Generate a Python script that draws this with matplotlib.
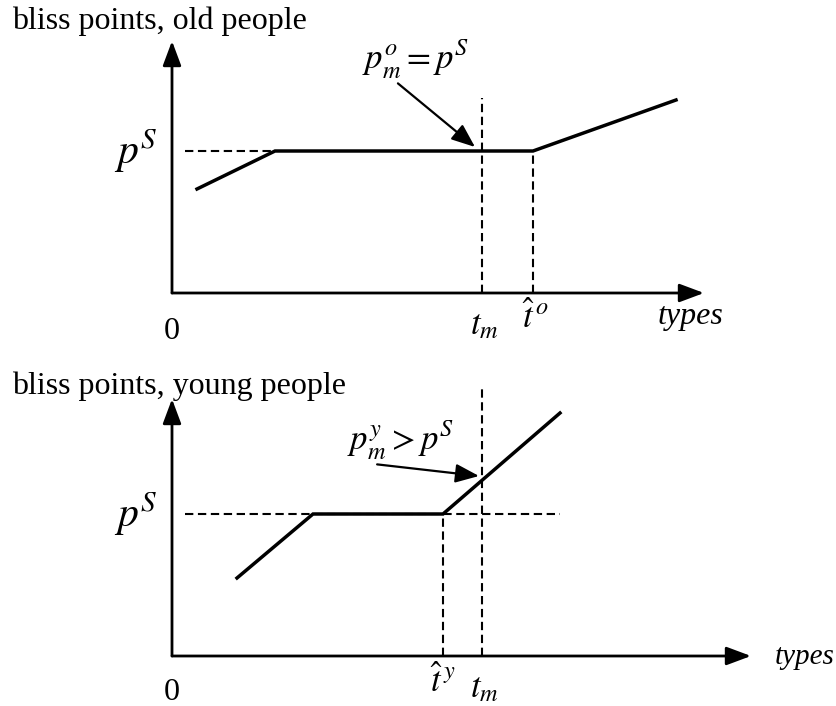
import matplotlib
matplotlib.use("Agg")
import matplotlib.pyplot as plt

plt.rcParams['font.family'] = ['Liberation Serif', 'DejaVu Serif']
plt.rcParams['mathtext.fontset'] = 'stix'

# ---- schematic data (units: types on x, bliss points on y) ----
# old people panel
old_types = [2.5, 10.3, 36.1, 50.4]
old_bliss = [10.4, 14.2, 14.2, 19.3]
old_pS = 14.2
old_tm = 31.0
old_that = 36.1
old_tm_top = 19.5

# young people panel
young_types = [6.5, 14.1, 27.1, 38.8]
young_bliss = [7.8, 14.2, 14.2, 24.3]
young_pS = 14.2
young_tm = 31.0
young_that = 27.1
young_tm_top = 27.0
young_pS_end = 38.8

titles = ["bliss points, old people", "bliss points, young people"]

W, H = 837, 706
fig = plt.figure(figsize=(W / 100, H / 100), dpi=100)

def make_ax(top_px, bot_px, origin_y_px):
    ax = fig.add_axes([0, 1 - bot_px / H, 1, (bot_px - top_px) / H])
    ax.set_xlim(-17.2, (W - 172) / 10)
    ax.set_ylim((origin_y_px - bot_px) / 10, (origin_y_px - top_px) / 10)
    ax.axis('off')
    return ax

dash = (0, (4, 2.2))
axis_arrow = dict(arrowstyle='-|>,head_length=0.75,head_width=0.28', lw=2.0,
                  color='k', shrinkA=0, shrinkB=0, mutation_scale=20)
ann_arrow = dict(arrowstyle='-|>,head_length=0.8,head_width=0.32', lw=1.6,
                 color='k', shrinkA=0, shrinkB=0, mutation_scale=18)

# ================= TOP PANEL =================
ax = make_ax(0, 360, 293)
ax.annotate('', xy=(0, 25.2), xytext=(0, 0), arrowprops=axis_arrow)
ax.annotate('', xy=(53.2, 0), xytext=(0, 0), arrowprops=axis_arrow)
ax.plot([1.3, old_types[1]], [old_pS, old_pS], color='k', lw=1.5, linestyle=dash)
ax.plot([old_tm, old_tm], [0, old_tm_top], color='k', lw=1.5, linestyle=dash)
ax.plot([old_that, old_that], [0, old_pS], color='k', lw=1.5, linestyle=dash)
ax.plot(old_types, old_bliss, color='k', lw=2.5, solid_joinstyle='miter')
ax.text(-16.0, 26.4, titles[0], fontsize=23, ha='left', va='baseline')
ax.text(-1.4, old_pS, r'$p^{S}$', fontsize=30, ha='right', va='center')
ax.text(0, -2.4, '0', fontsize=23, ha='center', va='top')
ax.text(old_tm + 0.2, -1.6, r'$t_{m}$', fontsize=25, ha='center', va='top')
ax.text(old_that + 0.2, -0.9, r'$\hat{t}^{\,o}$', fontsize=25, ha='center', va='top')
ax.text(48.6, -3.1, 'types', fontsize=23, style='italic', ha='left', va='baseline')
ax.annotate(r'$p_{m}^{o}=p^{S}$', xy=(old_tm - 0.7, old_pS + 0.4), xytext=(24.4, 23.4),
            fontsize=25, ha='center', va='center',
            arrowprops=dict(ann_arrow, relpos=(0.3, 0.0)))

# ================= BOTTOM PANEL =================
ax = make_ax(360, 706, 656)
ax.annotate('', xy=(0, 25.7), xytext=(0, 0), arrowprops=axis_arrow)
ax.annotate('', xy=(57.9, 0), xytext=(0, 0), arrowprops=axis_arrow)
ax.plot([1.3, young_pS_end], [young_pS, young_pS], color='k', lw=1.5, linestyle=dash)
ax.plot([young_tm, young_tm], [0, young_tm_top], color='k', lw=1.5, linestyle=dash)
ax.plot([young_that, young_that], [0, young_pS], color='k', lw=1.5, linestyle=dash)
ax.plot(young_types, young_bliss, color='k', lw=2.5, solid_joinstyle='miter')
ax.text(-16.0, 26.2, titles[1], fontsize=23, ha='left', va='baseline')
ax.text(-1.4, young_pS, r'$p^{S}$', fontsize=30, ha='right', va='center')
ax.text(0, -2.2, '0', fontsize=23, ha='center', va='top')
ax.text(young_tm + 0.2, -1.6, r'$t_{m}$', fontsize=25, ha='center', va='top')
ax.text(young_that, -1.0, r'$\hat{t}^{\,y}$', fontsize=25, ha='center', va='top')
ax.text(60.3, -0.1, 'types', fontsize=21, style='italic', ha='left', va='center')
ax.annotate(r'$p_{m}^{y}>p^{S}$', xy=(young_tm - 0.3, 18.0), xytext=(22.9, 21.6),
            fontsize=25, ha='center', va='center',
            arrowprops=dict(ann_arrow, relpos=(0.05, 0.0)))

fig.savefig('out.png', dpi=100)
